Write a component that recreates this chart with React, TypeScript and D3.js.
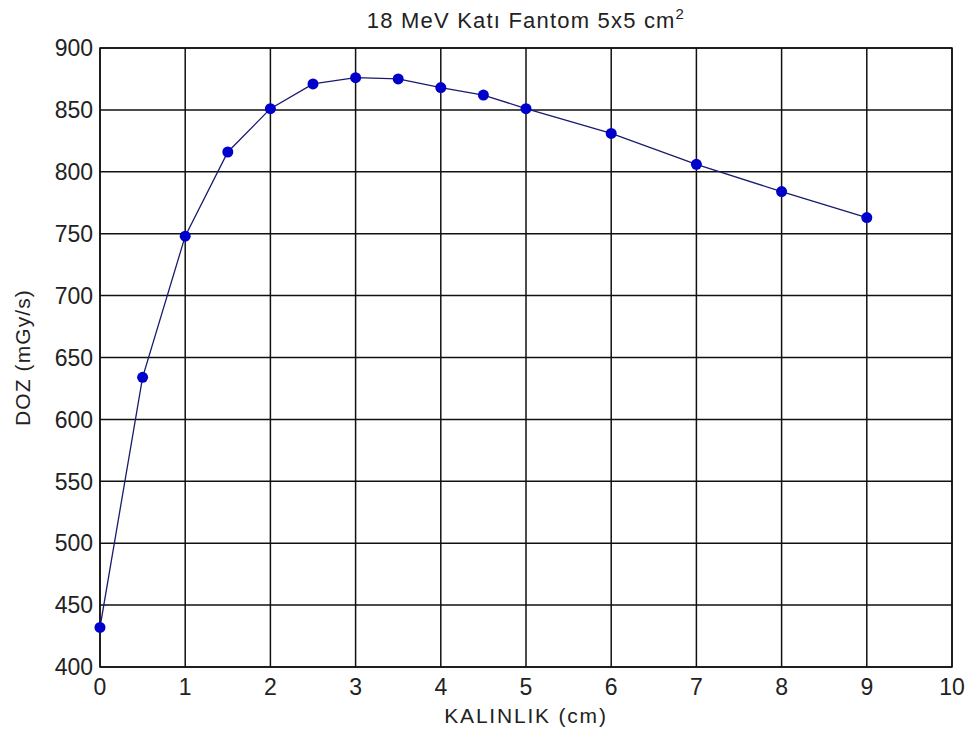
import React from "react";
import * as d3 from "d3";

const thickness = [0, 0.5, 1, 1.5, 2, 2.5, 3, 3.5, 4, 4.5, 5, 6, 7, 8, 9];
const dose = [432, 634, 748, 816, 851, 871, 876, 875, 868, 862, 851, 831, 806, 784, 763];
const xTicks = [0, 1, 2, 3, 4, 5, 6, 7, 8, 9, 10];
const yTicks = [400, 450, 500, 550, 600, 650, 700, 750, 800, 850, 900];

const W = 973;
const H = 740;
const M = { left: 100, right: 952, top: 48, bottom: 667 };
const FONT = "'Liberation Sans', Arial, sans-serif";

export default function App() {
  const x = d3.scaleLinear().domain([0, 10]).range([M.left, M.right]);
  const y = d3.scaleLinear().domain([400, 900]).range([M.bottom, M.top]);
  const line = d3
    .line<number>()
    .x((_, i) => x(thickness[i]))
    .y((d) => y(d));
  const pts = dose.map((d, i) => ({ x: thickness[i], y: d }));
  return (
    <svg
      width={W}
      height={H}
      style={{ position: "absolute", left: 0, top: 0, background: "#fff" }}
      fontFamily={FONT}
    >
      <rect x={0} y={0} width={W} height={H} fill="#fff" />
      {xTicks.map((t) => (
        <line key={"gx" + t} x1={x(t)} x2={x(t)} y1={M.top} y2={M.bottom} stroke="#111" strokeWidth={1.5} />
      ))}
      {yTicks.map((t) => (
        <line key={"gy" + t} x1={M.left} x2={M.right} y1={y(t)} y2={y(t)} stroke="#111" strokeWidth={1.5} />
      ))}
      <rect x={M.left} y={M.top} width={M.right - M.left} height={M.bottom - M.top} fill="none" stroke="#111" strokeWidth={1.5} />
      {xTicks.map((t) => (
        <text key={"tx" + t} x={x(t)} y={695} textAnchor="middle" fontSize={23} fill="#222">
          {t}
        </text>
      ))}
      {yTicks.map((t) => (
        <text key={"ty" + t} x={93} y={y(t)} dy="0.36em" textAnchor="end" fontSize={23} fill="#222">
          {t}
        </text>
      ))}
      <path d={line(dose) || ""} fill="none" stroke="#1a1a6e" strokeWidth={1.3} />
      {pts.map((p, i) => (
        <circle key={"p" + i} cx={x(p.x)} cy={y(p.y)} r={5.5} fill="#0000cc" />
      ))}
      <text x={(M.left + M.right) / 2} y={28} textAnchor="middle" fontSize={22} letterSpacing={1.2} fill="#222">
        18 MeV Katı Fantom 5x5 cm
        <tspan dy={-9} fontSize={15}>2</tspan>
      </text>
      <text x={(M.left + M.right) / 2} y={723} textAnchor="middle" fontSize={21} letterSpacing={1.8} fill="#222">
        KALINLIK (cm)
      </text>
      <text
        transform={`translate(30, ${(M.top + M.bottom) / 2}) rotate(-90)`}
        textAnchor="middle"
        fontSize={21}
        letterSpacing={1.1}
        fill="#222"
      >
        DOZ (mGy/s)
      </text>
    </svg>
  );
}
